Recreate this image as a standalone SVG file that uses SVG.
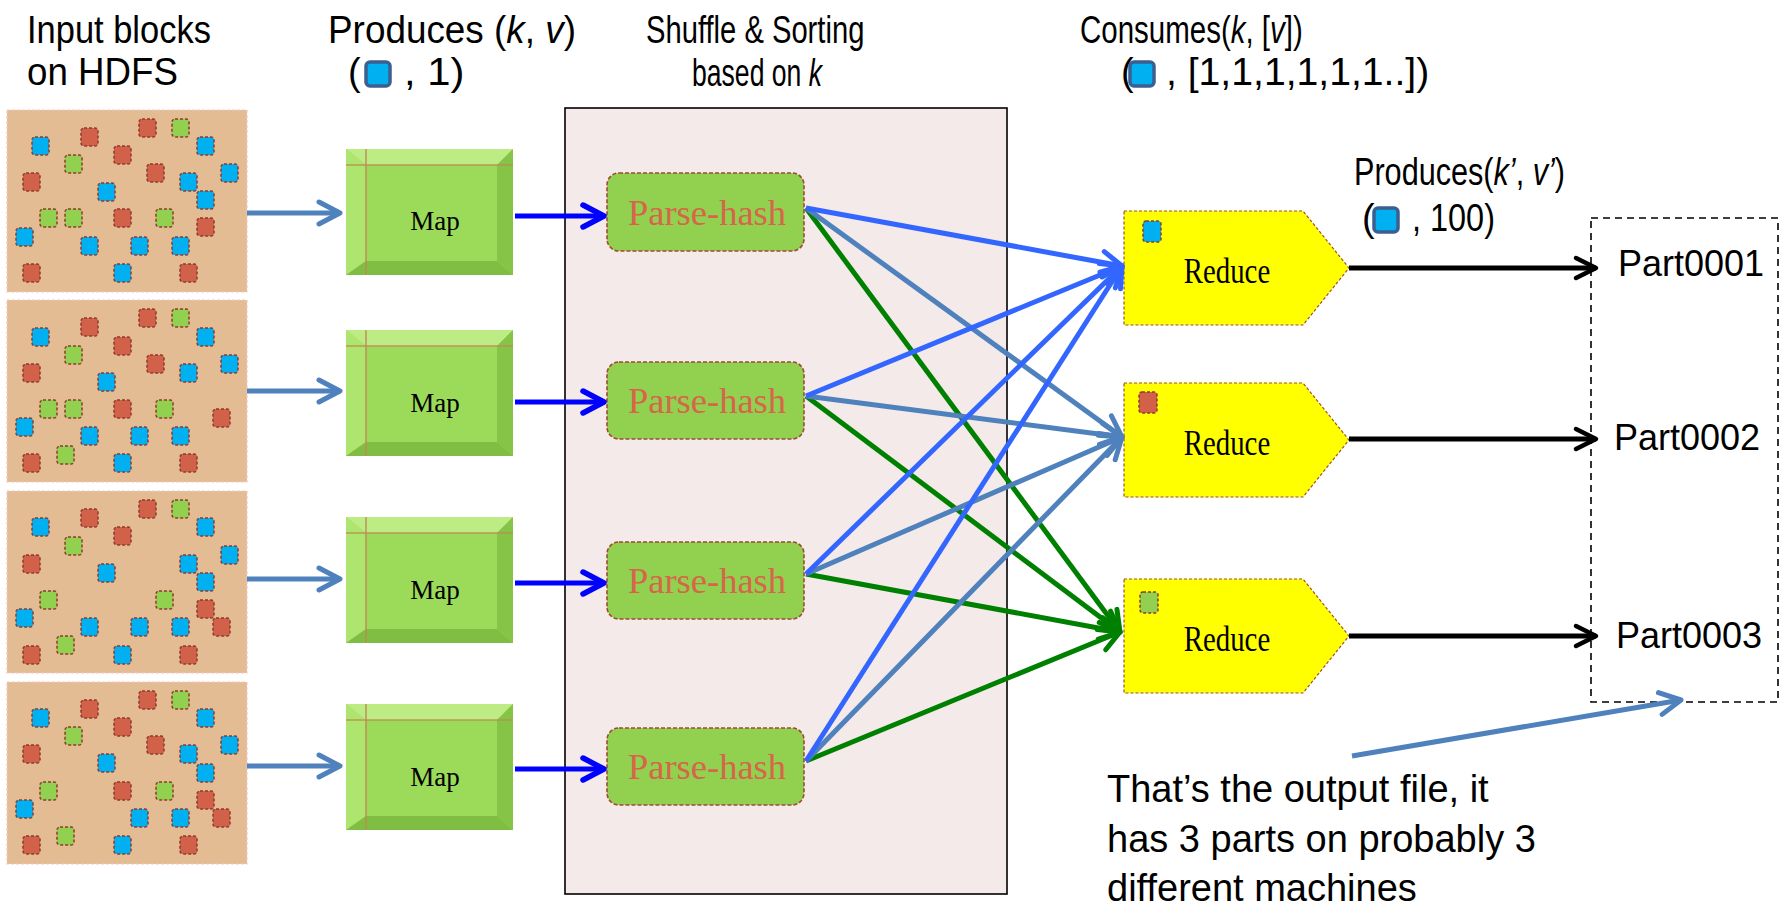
<svg xmlns="http://www.w3.org/2000/svg" width="1781" height="913" viewBox="0 0 1781 913">
<style>
.hdr{font-family:"Liberation Sans",Arial,sans-serif;font-size:38px;fill:#000}
.it{font-style:italic}
.sq{stroke:#8E3B2E;stroke-width:1.5;stroke-dasharray:3 2}
.r{fill:#D2614A}.g{fill:#92D050}.b{fill:#00B0F0}
.blk{fill:#E3BC93;stroke:#F4C8C0;stroke-width:1.2;stroke-dasharray:3 2}
.ic{fill:#00B0F0;stroke:#3B5F8F;stroke-width:3.5}
.mapbody{fill:#9CDB5A}
.bt{fill:#BDEB84}.bl{fill:#AEE56E}.br{fill:#86C447}.bb{fill:#80BD43}
.mline{stroke:#C08A55;stroke-width:1.6;opacity:.85}
.maptxt{font-family:"Liberation Serif",serif;font-size:27px;fill:#000;text-anchor:middle}
.ph{fill:#92D050;stroke:#A04A35;stroke-width:1.6;stroke-dasharray:4 2}
.phtxt{font-family:"Liberation Serif",serif;font-size:36.5px;fill:#D6654A;text-anchor:middle}
.red{fill:#FFFF00;stroke:#A0522D;stroke-width:1.2;stroke-dasharray:3 2}
.redtxt{font-family:"Liberation Serif",serif;font-size:36px;fill:#000;text-anchor:middle}
.part{font-family:"Liberation Sans",Arial,sans-serif;font-size:36px;fill:#000}
.note{font-family:"Liberation Sans",Arial,sans-serif;font-size:38px;fill:#000}
.c{fill:none;stroke-width:5}
.steel{stroke:#4F81BD}.pblue{stroke:#0000FF}.bblue{stroke:#3366FF}.grn{stroke:#008000}.blk2{stroke:#000}
</style>
<defs>
<marker id="m-steel" markerUnits="userSpaceOnUse" viewBox="-28 -16 32 32" markerWidth="32" markerHeight="32" refX="0" refY="0" orient="auto"><path d="M-21,-11 L0,0 L-21,11" fill="none" stroke="#4F81BD" stroke-width="5" stroke-linecap="round" stroke-linejoin="round"/></marker>
<marker id="m-pblue" markerUnits="userSpaceOnUse" viewBox="-28 -16 32 32" markerWidth="32" markerHeight="32" refX="0" refY="0" orient="auto"><path d="M-21,-11 L0,0 L-21,11" fill="none" stroke="#0000FF" stroke-width="5.5" stroke-linecap="round" stroke-linejoin="round"/></marker>
<marker id="m-bblue" markerUnits="userSpaceOnUse" viewBox="-28 -16 32 32" markerWidth="32" markerHeight="32" refX="0" refY="0" orient="auto"><path d="M-20,-11 L0,0 L-20,11" fill="none" stroke="#3366FF" stroke-width="5" stroke-linecap="round" stroke-linejoin="round"/></marker>
<marker id="m-grn" markerUnits="userSpaceOnUse" viewBox="-28 -16 32 32" markerWidth="32" markerHeight="32" refX="0" refY="0" orient="auto"><path d="M-20,-11 L0,0 L-20,11" fill="none" stroke="#008000" stroke-width="5" stroke-linecap="round" stroke-linejoin="round"/></marker>
<marker id="m-blk" markerUnits="userSpaceOnUse" viewBox="-28 -16 32 32" markerWidth="32" markerHeight="32" refX="0" refY="0" orient="auto"><path d="M-20,-10 L0,0 L-20,10" fill="none" stroke="#000" stroke-width="4.5" stroke-linecap="round" stroke-linejoin="round"/></marker>
</defs>
<rect width="1781" height="913" fill="#fff"/>

<!-- headers -->
<g id="headers">
<text class="hdr" transform="translate(27,43) scale(0.907,1)">Input blocks</text>
<text class="hdr" transform="translate(27,85) scale(0.966,1)">on HDFS</text>
<text class="hdr" transform="translate(328,43) scale(0.971,1)">Produces (<tspan class="it">k</tspan>, <tspan class="it">v</tspan>)</text>
<text class="hdr" x="348" y="85">(</text>
<rect class="ic" x="366" y="62" width="24" height="24" rx="4"/>
<text class="hdr" transform="translate(404,85) scale(1.1,1)">, 1)</text>
<text class="hdr" transform="translate(646,43) scale(0.768,1)">Shuffle &amp; Sorting</text>
<text class="hdr" transform="translate(692,86) scale(0.70,1)">based on <tspan class="it">k</tspan></text>
<text class="hdr" transform="translate(1080,43) scale(0.776,1)">Consumes(<tspan class="it">k</tspan>, [<tspan class="it">v</tspan>])</text>
<text class="hdr" x="1121" y="85">(</text>
<rect class="ic" x="1130" y="62" width="24" height="24" rx="4"/>
<text class="hdr" transform="translate(1166,85) scale(1.03,1)">, [1,1,1,1,1,1..])</text>
<text class="hdr" transform="translate(1354,185) scale(0.806,1)">Produces(<tspan class="it">k’</tspan>, <tspan class="it">v’</tspan>)</text>
<text class="hdr" x="1362" y="231">(</text>
<rect class="ic" x="1374" y="208" width="24" height="24" rx="4"/>
<text class="hdr" transform="translate(1412,231) scale(0.854,1)">, 100)</text>
</g>

<!-- input blocks -->
<g id="block1" transform="translate(7,110)">
<rect class="blk" width="240" height="182"/>
<rect class="sq r" x="132" y="9" width="17" height="18" rx="3"/><rect class="sq g" x="165" y="9" width="17" height="18" rx="3"/>
<rect class="sq r" x="74" y="18" width="17" height="18" rx="3"/><rect class="sq b" x="25" y="27" width="17" height="18" rx="3"/>
<rect class="sq b" x="190" y="27" width="17" height="18" rx="3"/><rect class="sq r" x="107" y="36" width="17" height="18" rx="3"/>
<rect class="sq g" x="58" y="45" width="17" height="18" rx="3"/><rect class="sq r" x="140" y="54" width="17" height="18" rx="3"/>
<rect class="sq b" x="214" y="54" width="17" height="18" rx="3"/><rect class="sq r" x="16" y="63" width="17" height="18" rx="3"/>
<rect class="sq b" x="173" y="63" width="17" height="18" rx="3"/><rect class="sq b" x="91" y="73" width="17" height="18" rx="3"/>
<rect class="sq b" x="190" y="81" width="17" height="18" rx="3"/><rect class="sq g" x="33" y="99" width="17" height="18" rx="3"/>
<rect class="sq g" x="58" y="99" width="17" height="18" rx="3"/><rect class="sq r" x="107" y="99" width="17" height="18" rx="3"/>
<rect class="sq g" x="149" y="99" width="17" height="18" rx="3"/><rect class="sq r" x="190" y="108" width="17" height="18" rx="3"/>
<rect class="sq b" x="9" y="118" width="17" height="18" rx="3"/><rect class="sq b" x="74" y="127" width="17" height="18" rx="3"/>
<rect class="sq b" x="124" y="127" width="17" height="18" rx="3"/><rect class="sq b" x="165" y="127" width="17" height="18" rx="3"/>
<rect class="sq r" x="16" y="154" width="17" height="18" rx="3"/><rect class="sq b" x="107" y="154" width="17" height="18" rx="3"/>
<rect class="sq r" x="173" y="154" width="17" height="18" rx="3"/>
</g>
<g id="block2" transform="translate(7,300)">
<rect class="blk" width="240" height="182"/>
<rect class="sq r" x="132" y="9" width="17" height="18" rx="3"/><rect class="sq g" x="165" y="9" width="17" height="18" rx="3"/>
<rect class="sq r" x="74" y="18" width="17" height="18" rx="3"/><rect class="sq b" x="25" y="28" width="17" height="18" rx="3"/>
<rect class="sq b" x="190" y="28" width="17" height="18" rx="3"/><rect class="sq r" x="107" y="37" width="17" height="18" rx="3"/>
<rect class="sq g" x="58" y="46" width="17" height="18" rx="3"/><rect class="sq r" x="140" y="55" width="17" height="18" rx="3"/>
<rect class="sq b" x="214" y="55" width="17" height="18" rx="3"/><rect class="sq r" x="16" y="64" width="17" height="18" rx="3"/>
<rect class="sq b" x="173" y="64" width="17" height="18" rx="3"/><rect class="sq b" x="91" y="73" width="17" height="18" rx="3"/>
<rect class="sq g" x="33" y="100" width="17" height="18" rx="3"/><rect class="sq g" x="58" y="100" width="17" height="18" rx="3"/>
<rect class="sq r" x="107" y="100" width="17" height="18" rx="3"/><rect class="sq g" x="149" y="100" width="17" height="18" rx="3"/>
<rect class="sq r" x="206" y="109" width="17" height="18" rx="3"/><rect class="sq b" x="9" y="118" width="17" height="18" rx="3"/>
<rect class="sq b" x="74" y="127" width="17" height="18" rx="3"/><rect class="sq b" x="124" y="127" width="17" height="18" rx="3"/>
<rect class="sq b" x="165" y="127" width="17" height="18" rx="3"/><rect class="sq g" x="50" y="146" width="17" height="18" rx="3"/>
<rect class="sq r" x="16" y="154" width="17" height="18" rx="3"/><rect class="sq b" x="107" y="154" width="17" height="18" rx="3"/>
<rect class="sq r" x="173" y="154" width="17" height="18" rx="3"/>
</g>
<g id="block3" transform="translate(7,491)">
<rect class="blk" width="240" height="182"/>
<rect class="sq r" x="132" y="9" width="17" height="18" rx="3"/><rect class="sq g" x="165" y="9" width="17" height="18" rx="3"/>
<rect class="sq r" x="74" y="18" width="17" height="18" rx="3"/><rect class="sq b" x="25" y="27" width="17" height="18" rx="3"/>
<rect class="sq b" x="190" y="27" width="17" height="18" rx="3"/><rect class="sq r" x="107" y="36" width="17" height="18" rx="3"/>
<rect class="sq g" x="58" y="46" width="17" height="18" rx="3"/><rect class="sq b" x="214" y="55" width="17" height="18" rx="3"/>
<rect class="sq r" x="16" y="64" width="17" height="18" rx="3"/><rect class="sq b" x="173" y="64" width="17" height="18" rx="3"/>
<rect class="sq b" x="91" y="73" width="17" height="18" rx="3"/><rect class="sq b" x="190" y="82" width="17" height="18" rx="3"/>
<rect class="sq g" x="33" y="100" width="17" height="18" rx="3"/><rect class="sq g" x="149" y="100" width="17" height="18" rx="3"/>
<rect class="sq r" x="190" y="109" width="17" height="18" rx="3"/><rect class="sq b" x="9" y="118" width="17" height="18" rx="3"/>
<rect class="sq b" x="74" y="127" width="17" height="18" rx="3"/><rect class="sq b" x="124" y="127" width="17" height="18" rx="3"/>
<rect class="sq b" x="165" y="127" width="17" height="18" rx="3"/><rect class="sq r" x="206" y="127" width="17" height="18" rx="3"/>
<rect class="sq g" x="50" y="145" width="17" height="18" rx="3"/><rect class="sq r" x="16" y="155" width="17" height="18" rx="3"/>
<rect class="sq b" x="107" y="155" width="17" height="18" rx="3"/><rect class="sq r" x="173" y="155" width="17" height="18" rx="3"/>
</g>
<g id="block4" transform="translate(7,682)">
<rect class="blk" width="240" height="182"/>
<rect class="sq r" x="132" y="9" width="17" height="18" rx="3"/><rect class="sq g" x="165" y="9" width="17" height="18" rx="3"/>
<rect class="sq r" x="74" y="18" width="17" height="18" rx="3"/><rect class="sq b" x="25" y="27" width="17" height="18" rx="3"/>
<rect class="sq b" x="190" y="27" width="17" height="18" rx="3"/><rect class="sq r" x="107" y="36" width="17" height="18" rx="3"/>
<rect class="sq g" x="58" y="45" width="17" height="18" rx="3"/><rect class="sq r" x="140" y="54" width="17" height="18" rx="3"/>
<rect class="sq b" x="214" y="54" width="17" height="18" rx="3"/><rect class="sq r" x="16" y="63" width="17" height="18" rx="3"/>
<rect class="sq b" x="173" y="63" width="17" height="18" rx="3"/><rect class="sq b" x="91" y="72" width="17" height="18" rx="3"/>
<rect class="sq b" x="190" y="82" width="17" height="18" rx="3"/><rect class="sq g" x="33" y="100" width="17" height="18" rx="3"/>
<rect class="sq r" x="107" y="100" width="17" height="18" rx="3"/><rect class="sq g" x="149" y="100" width="17" height="18" rx="3"/>
<rect class="sq r" x="190" y="109" width="17" height="18" rx="3"/><rect class="sq b" x="9" y="118" width="17" height="18" rx="3"/>
<rect class="sq b" x="124" y="127" width="17" height="18" rx="3"/><rect class="sq b" x="165" y="127" width="17" height="18" rx="3"/>
<rect class="sq r" x="206" y="127" width="17" height="18" rx="3"/><rect class="sq g" x="50" y="145" width="17" height="18" rx="3"/>
<rect class="sq r" x="16" y="154" width="17" height="18" rx="3"/><rect class="sq b" x="107" y="154" width="17" height="18" rx="3"/>
<rect class="sq r" x="173" y="154" width="17" height="18" rx="3"/>
</g>

<!-- map boxes -->
<g id="map1" transform="translate(346,149)">
<rect class="mapbody" width="167" height="126"/>
<polygon class="bt" points="0,0 167,0 151,16 20,16"/><polygon class="bl" points="0,0 20,16 20,112 0,126"/>
<polygon class="br" points="167,0 167,126 151,112 151,16"/><polygon class="bb" points="0,126 20,112 151,112 167,126"/>
<line class="mline" x1="0" y1="16" x2="167" y2="16"/><line class="mline" x1="20" y1="0" x2="20" y2="126"/>
<text class="maptxt" x="89" y="81">Map</text>
</g>
<g id="map2" transform="translate(346,330)">
<rect class="mapbody" width="167" height="126"/>
<polygon class="bt" points="0,0 167,0 151,16 20,16"/><polygon class="bl" points="0,0 20,16 20,112 0,126"/>
<polygon class="br" points="167,0 167,126 151,112 151,16"/><polygon class="bb" points="0,126 20,112 151,112 167,126"/>
<line class="mline" x1="0" y1="16" x2="167" y2="16"/><line class="mline" x1="20" y1="0" x2="20" y2="126"/>
<text class="maptxt" x="89" y="82">Map</text>
</g>
<g id="map3" transform="translate(346,517)">
<rect class="mapbody" width="167" height="126"/>
<polygon class="bt" points="0,0 167,0 151,16 20,16"/><polygon class="bl" points="0,0 20,16 20,112 0,126"/>
<polygon class="br" points="167,0 167,126 151,112 151,16"/><polygon class="bb" points="0,126 20,112 151,112 167,126"/>
<line class="mline" x1="0" y1="16" x2="167" y2="16"/><line class="mline" x1="20" y1="0" x2="20" y2="126"/>
<text class="maptxt" x="89" y="82">Map</text>
</g>
<g id="map4" transform="translate(346,704)">
<rect class="mapbody" width="167" height="126"/>
<polygon class="bt" points="0,0 167,0 151,16 20,16"/><polygon class="bl" points="0,0 20,16 20,112 0,126"/>
<polygon class="br" points="167,0 167,126 151,112 151,16"/><polygon class="bb" points="0,126 20,112 151,112 167,126"/>
<line class="mline" x1="0" y1="16" x2="167" y2="16"/><line class="mline" x1="20" y1="0" x2="20" y2="126"/>
<text class="maptxt" x="89" y="82">Map</text>
</g>

<!-- shuffle container -->
<g id="shuffle">
<rect x="565" y="108" width="442" height="786" fill="#F5EAEA" stroke="#000" stroke-width="1.6"/>
</g>

<!-- parse-hash nodes -->
<g id="ph1"><rect class="ph" x="607" y="173" width="197" height="78" rx="12"/><text class="phtxt" x="707" y="225">Parse-hash</text></g>
<g id="ph2"><rect class="ph" x="607" y="362" width="197" height="77" rx="12"/><text class="phtxt" x="707" y="413">Parse-hash</text></g>
<g id="ph3"><rect class="ph" x="607" y="542" width="197" height="77" rx="12"/><text class="phtxt" x="707" y="593">Parse-hash</text></g>
<g id="ph4"><rect class="ph" x="607" y="728" width="197" height="77" rx="12"/><text class="phtxt" x="707" y="779">Parse-hash</text></g>

<!-- reduce nodes -->
<g id="reduce1"><polygon class="red" points="1124,211 1303,211 1349,268 1303,325 1124,325"/><rect class="sq b" x="1143" y="221" width="18" height="21" rx="3"/><text class="redtxt" transform="translate(1227,283) scale(0.8,1)">Reduce</text></g>
<g id="reduce2"><polygon class="red" points="1124,383 1303,383 1349,440 1303,497 1124,497"/><rect class="sq r" x="1139" y="392" width="18" height="21" rx="3"/><text class="redtxt" transform="translate(1227,455) scale(0.8,1)">Reduce</text></g>
<g id="reduce3"><polygon class="red" points="1124,579 1303,579 1349,636 1303,693 1124,693"/><rect class="sq g" x="1140" y="592" width="18" height="21" rx="3"/><text class="redtxt" transform="translate(1227,651) scale(0.8,1)">Reduce</text></g>

<!-- output -->
<g id="output">
<rect x="1591" y="218" width="187" height="484" fill="none" stroke="#000" stroke-width="1.6" stroke-dasharray="7 5"/>
<text class="part" x="1618" y="276">Part0001</text>
<text class="part" x="1614" y="450">Part0002</text>
<text class="part" x="1616" y="648">Part0003</text>
</g>

<g id="note">
<text class="note" x="1107" y="802">That’s the output file, it</text>
<text class="note" x="1107" y="852">has 3 parts on probably 3</text>
<text class="note" x="1107" y="901">different machines</text>
</g>

<!-- connectors -->
<g id="connectors">
<line class="c steel" stroke-width="4" x1="247" y1="213" x2="340" y2="213" marker-end="url(#m-steel)"/>
<line class="c steel" stroke-width="4" x1="247" y1="391" x2="340" y2="391" marker-end="url(#m-steel)"/>
<line class="c steel" stroke-width="4" x1="247" y1="579" x2="340" y2="579" marker-end="url(#m-steel)"/>
<line class="c steel" stroke-width="4" x1="247" y1="766" x2="340" y2="766" marker-end="url(#m-steel)"/>

<line class="c pblue" x1="515" y1="216" x2="604" y2="216" marker-end="url(#m-pblue)"/>
<line class="c pblue" x1="515" y1="402" x2="604" y2="402" marker-end="url(#m-pblue)"/>
<line class="c pblue" x1="515" y1="583" x2="604" y2="583" marker-end="url(#m-pblue)"/>
<line class="c pblue" x1="515" y1="769" x2="604" y2="769" marker-end="url(#m-pblue)"/>

<line class="c grn" x1="806" y1="208" x2="1120" y2="632" marker-end="url(#m-grn)"/>
<line class="c grn" x1="806" y1="396" x2="1120" y2="632" marker-end="url(#m-grn)"/>
<line class="c grn" x1="806" y1="574" x2="1120" y2="632" marker-end="url(#m-grn)"/>
<line class="c grn" x1="806" y1="761" x2="1120" y2="632" marker-end="url(#m-grn)"/>

<line class="c steel" x1="806" y1="208" x2="1122" y2="437" marker-end="url(#m-steel)"/>
<line class="c steel" x1="806" y1="396" x2="1122" y2="437" marker-end="url(#m-steel)"/>
<line class="c steel" x1="806" y1="574" x2="1122" y2="437" marker-end="url(#m-steel)"/>
<line class="c steel" x1="806" y1="761" x2="1122" y2="437" marker-end="url(#m-steel)"/>

<line class="c bblue" x1="806" y1="208" x2="1122" y2="266" marker-end="url(#m-bblue)"/>
<line class="c bblue" x1="806" y1="396" x2="1122" y2="266" marker-end="url(#m-bblue)"/>
<line class="c bblue" x1="806" y1="574" x2="1122" y2="266" marker-end="url(#m-bblue)"/>
<line class="c bblue" x1="806" y1="761" x2="1122" y2="266" marker-end="url(#m-bblue)"/>

<line class="c blk2" stroke-width="4" x1="1349" y1="268" x2="1596" y2="268" marker-end="url(#m-blk)"/>
<line class="c blk2" stroke-width="4" x1="1349" y1="439" x2="1596" y2="439" marker-end="url(#m-blk)"/>
<line class="c blk2" stroke-width="4" x1="1349" y1="636" x2="1596" y2="636" marker-end="url(#m-blk)"/>

<line class="c steel" stroke-width="4.5" x1="1352" y1="756" x2="1681" y2="700" marker-end="url(#m-steel)"/>
</g>
</svg>
